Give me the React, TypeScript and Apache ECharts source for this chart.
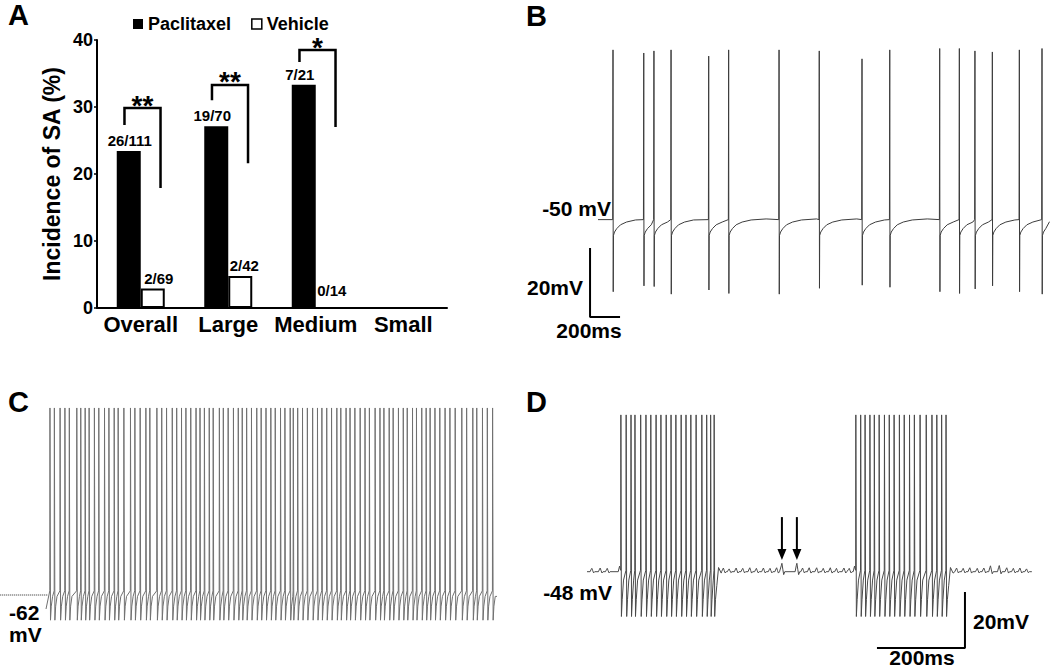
import React, { useEffect, useRef } from 'react';
import * as echarts from 'echarts';

const FONT = '"Liberation Sans", Arial, Helvetica, sans-serif';

// ---------- Panel A data ----------
const categories = ['Overall', 'Large', 'Medium', 'Small'];
const paclitaxelCounts = [26, 19, 7, null];
const paclitaxelTotals = [111, 70, 21, null];
const vehicleCounts = [2, 2, 0, null];
const vehicleTotals = [69, 42, 14, null];
const yTicksA = [0, 10, 20, 30, 40];
const bracketCats = [0, 1, 2];
const bracketLeft = [27.3, 31, 36.7];
const bracketTop = [29.85, 33.3, 38.5];
const bracketRight = [17.9, 21.6, 27];
const bracketStars = ['**', '**', '*'];
const paclitaxelLabelOffsets = [[1, 0], [-4, 0], [-4, 0], [0, 0]];
const vehicleLabelOffsets = [[6, 0], [4, 0], [4, -6], [0, 0]];

// ---------- Panel B data (ms, mV) ----------
const spikeTimesB = [100, 305, 373, 487, 738, 871, 1207, 1475, 1760, 1945, 2278, 2409, 2513, 2629, 2809, 2960];
const spikePeakB = [-0.4, -1.3, -0.7, -0.4, -2.2, -0.4, -0.4, -0.7, -3.0, -0.4, 0, 0, -0.7, -1.0, -0.4, 0];
const spikeTroughB = [-70.5, -68.8, -69.0, -71.2, -70.0, -71.0, -71.2, -69.5, -68.6, -69.2, -70.5, -71.0, -69.7, -68.8, -70.5, -71.2];
const ahpTemplateB = [[3, -54.2], [10, -53.2], [25, -52.2], [50, -51.1], [90, -50.3], [150, -49.7], [250, -49.4]];
const restB = -49.6;
const traceEndB = 3010;
const scaleBarB = { t: -53, v: -77.8, dt: 200, dv: 20 };

// ---------- Panel C data ----------
const spikeTimesC = [9, 19, 32, 43, 53, 70, 79, 89, 98, 110, 120, 133, 143, 155, 164, 177, 192, 202, 214, 227, 236, 252, 263, 274, 287, 297, 308, 318, 329, 341, 350, 360, 371, 380, 394, 403, 414, 426, 437, 446, 456, 467, 479, 489, 500, 511, 521, 533, 543, 555, 562, 572, 583, 594, 606, 617, 627, 638, 649, 661, 670, 682, 691, 702, 714, 725, 735, 748, 759, 768, 780, 789, 801, 812, 821, 833, 842, 854, 864, 873, 884, 895, 907, 918, 930, 945, 956, 970, 979, 992, 1003, 1015];
const peakC = 4.8;
const troughC = -71;
const traceEndC = 1025;
const restLineC = -62;

// ---------- Panel D data ----------
const spikeTimesD1 = [77, 89, 100, 109, 122, 134, 145, 157, 168, 180, 191, 202, 214, 225, 236, 248, 261, 272, 281, 289];
const spikeTimesD2 = [611, 622, 632, 643, 653, 664, 676, 687, 698, 710, 721, 733, 744, 757, 771, 784, 795, 806, 816];
const bumpTimesD = [11, 30, 46, 310, 323, 339, 354, 370, 385, 401, 416, 431, 443, 477, 490, 505, 522, 537, 553, 567, 584, 596, 840, 855, 870, 887, 902, 917, 937, 954, 969, 984, 999];
const bumpAmpD = [1.2, 1.3, 1.2, 1.3, 1.0, 1.3, 1.2, 1.4, 1.2, 1.3, 1.2, 1.4, 3.0, 3.0, 1.3, 1.4, 1.4, 1.2, 1.4, 1.2, 1.3, 1.2, 1.3, 1.2, 1.4, 1.2, 1.3, 2.1, 2.2, 1.4, 1.2, 1.3, 1.0];
const restD = -48;
const peakD = 8;
const troughD = -64;
const traceEndD = 1011;
const arrowsD = [[443, -28.5, -43.8], [477, -28.5, -43.8]];
const scaleBarD = { t: 859, v: -75.25, dt: 200, dv: 20 };

const pct = (c: number | null, t: number | null) => (c == null || t == null ? '-' : (c / t) * 100);

function buildB() {
  const pts: number[][] = [[0, restB]];
  spikeTimesB.forEach((t, i) => {
    const next = i + 1 < spikeTimesB.length ? spikeTimesB[i + 1] : traceEndB;
    pts.push([t - 2, restB], [t, spikePeakB[i]], [t + 1.5, spikeTroughB[i]]);
    for (const [dt, v] of ahpTemplateB) if (t + dt < next - 3) pts.push([t + dt, v]);
  });
  pts.push([traceEndB, -50.2]);
  return pts;
}

function buildC() {
  const pts: number[][] = [[0, -67]];
  spikeTimesC.forEach((t, i) => {
    const next = i + 1 < spikeTimesC.length ? spikeTimesC[i + 1] : traceEndC + 10;
    pts.push([t - 0.4, -60.5], [t, peakC], [t + 1.2, troughC]);
    if (t + 3 < next - 0.6) pts.push([t + 3, -66]);
    if (t + 6 < next - 0.6) pts.push([t + 6, -62.5]);
  });
  pts.push([traceEndC, -62.5]);
  return pts;
}

function buildD() {
  const pts: number[][] = [[0, restD]];
  const bursts = [spikeTimesD1, spikeTimesD2];
  const events = [
    ...bumpTimesD.map((t, i) => ({ t, kind: 'bump', i })),
    ...bursts.map((b, i) => ({ t: b[0], kind: 'burst', i })),
  ].sort((a, b) => a.t - b.t);
  for (const e of events) {
    if (e.kind === 'bump') {
      const a = bumpAmpD[e.i];
      pts.push([e.t - 4, restD], [e.t - 1.5, restD + a * 0.7], [e.t, restD + a], [e.t + 2, restD + a * 0.3], [e.t + 4, restD - a * 0.35], [e.t + 6.5, restD]);
    } else {
      const b = bursts[e.i];
      pts.push([b[0] - 6, restD], [b[0] - 3, -46]);
      b.forEach((t, k) => {
        pts.push([t - 0.4, -47.5], [t, peakD], [t + 1.2, troughD], [t + 3, -58]);
        if (k < b.length - 1) pts.push([t + 6, -51]);
        else pts.push([t + 6, -53], [t + 10, -46.5], [t + 16, -48.5]);
      });
    }
  }
  pts.push([traceEndD, restD]);
  return pts;
}

export default function App() {
  const ref = useRef<HTMLDivElement>(null);
  useEffect(() => {
    if (!ref.current) return;
    const chart = echarts.init(ref.current, null, { renderer: 'svg' });
    const bold = (size: number) => ({ fontFamily: FONT, fontWeight: 'bold' as const, fontSize: size, color: '#000' });
    const txt = (text: string, x: number, y: number, size: number, align = 'left') => ({
      type: 'text', x, y, silent: true,
      style: { text, x: 0, y: 0, font: `bold ${size}px ${FONT}`, fill: '#000', align, verticalAlign: 'middle', textAlign: align, textVerticalAlign: 'middle' },
    });
    const lineSeries = (data: number[][], axis: number, color: string, width: number, type = 'solid') => ({
      type: 'line', xAxisIndex: axis, yAxisIndex: axis, data, showSymbol: false, symbol: 'none', silent: true,
      lineStyle: { color, width, type }, itemStyle: { color }, z: 3,
    });
    const option: any = {
      animation: false,
      backgroundColor: '#fff',
      legend: {
        left: 128, top: 10, itemWidth: 10, itemHeight: 10, itemGap: 20, icon: 'rect',
        textStyle: { ...bold(18), lineHeight: 18 },
        data: [
          { name: 'Paclitaxel', itemStyle: { color: '#000' } },
          { name: 'Vehicle', itemStyle: { color: '#fff', borderColor: '#000', borderWidth: 1.5 } },
        ],
      },
      grid: [
        { left: 97, top: 40, width: 350, height: 268 },
        { left: 589, top: 14, width: 460.5, height: 310.5 },
        { left: 0.24, top: 393.4, width: 496.76, height: 252 },
        { left: 587, top: 381.3, width: 444.84, height: 280 },
      ],
      xAxis: [
        {
          type: 'category', gridIndex: 0, data: categories,
          axisLine: { lineStyle: { color: '#000', width: 2 } },
          axisTick: { show: false },
          axisLabel: { ...bold(22), margin: 5, interval: 0 },
        },
        { type: 'value', gridIndex: 1, min: -60, max: traceEndB, show: false },
        { type: 'value', gridIndex: 2, min: -104, max: traceEndC, show: false },
        { type: 'value', gridIndex: 3, min: 0, max: traceEndD, show: false },
      ],
      yAxis: [
        {
          type: 'value', gridIndex: 0, min: yTicksA[0], max: yTicksA[yTicksA.length - 1], interval: yTicksA[1] - yTicksA[0],
          name: 'Incidence of SA (%)', nameLocation: 'middle', nameGap: 34, nameRotate: 90,
          nameTextStyle: bold(23),
          axisLine: { show: true, lineStyle: { color: '#000', width: 2 } },
          axisTick: { show: true, length: 3, lineStyle: { color: '#000', width: 1.5 } },
          axisLabel: { ...bold(18), margin: 4 },
          splitLine: { show: false },
        },
        { type: 'value', gridIndex: 1, min: -80, max: 10, show: false },
        { type: 'value', gridIndex: 2, min: -80, max: 10, show: false },
        { type: 'value', gridIndex: 3, min: -80, max: 20, show: false },
      ],
      series: [
        {
          name: 'Paclitaxel', type: 'bar', xAxisIndex: 0, yAxisIndex: 0, barWidth: 24, barGap: '0%',
          itemStyle: { color: '#000' },
          data: categories.map((_, i) => ({ value: pct(paclitaxelCounts[i], paclitaxelTotals[i]), label: { offset: paclitaxelLabelOffsets[i] } })),
          label: {
            show: true, position: 'top', distance: 3, ...bold(15),
            formatter: (p: any) => (paclitaxelCounts[p.dataIndex] == null ? '' : `${paclitaxelCounts[p.dataIndex]}/${paclitaxelTotals[p.dataIndex]}`),
          },
        },
        {
          name: 'Vehicle', type: 'bar', xAxisIndex: 0, yAxisIndex: 0, barWidth: 24, barGap: '0%',
          itemStyle: { color: '#fff', borderColor: '#000', borderWidth: 2 },
          data: categories.map((_, i) => ({ value: pct(vehicleCounts[i], vehicleTotals[i]), label: { offset: vehicleLabelOffsets[i] } })),
          label: {
            show: true, position: 'top', distance: 3, ...bold(15),
            formatter: (p: any) => (vehicleCounts[p.dataIndex] == null ? '' : `${vehicleCounts[p.dataIndex]}/${vehicleTotals[p.dataIndex]}`),
          },
        },
        {
          type: 'custom', xAxisIndex: 0, yAxisIndex: 0, silent: true, z: 5,
          data: bracketCats.map((c, i) => [c, bracketLeft[i], bracketTop[i], bracketRight[i]]),
          renderItem: (params: any, api: any) => {
            const cat = api.value(0);
            const top = api.coord([cat, api.value(2)]);
            const band = api.size([1, 0])[0];
            const xl = top[0] - band * 0.186;
            const xr = top[0] + band * 0.226;
            const yl = api.coord([cat, api.value(1)])[1];
            const yr = api.coord([cat, api.value(3)])[1];
            const yt = top[1];
            return {
              type: 'group',
              children: [
                { type: 'polyline', shape: { points: [[xl, yl], [xl, yt], [xr, yt], [xr, yr]] }, style: { stroke: '#000', lineWidth: 2.5, fill: null } },
                { type: 'text', style: { text: bracketStars[params.dataIndex], x: (xl + xr) / 2, y: yt - 3, align: 'center', verticalAlign: 'middle', font: `bold 28px ${FONT}`, lineHeight: 14, fill: '#000' } },
              ],
            };
          },
        },
        lineSeries(buildB(), 1, '#3c3c3c', 1),
        lineSeries([[scaleBarB.t, scaleBarB.v + scaleBarB.dv], [scaleBarB.t, scaleBarB.v], [scaleBarB.t + scaleBarB.dt, scaleBarB.v]], 1, '#000', 2),
        lineSeries(buildC(), 2, '#707070', 1),
        lineSeries([[-104, restLineC], [4, restLineC]], 2, '#222', 1, 'dotted'),
        lineSeries(buildD(), 3, '#4a4a4a', 1),
        lineSeries([[scaleBarD.t, scaleBarD.v + scaleBarD.dv], [scaleBarD.t, scaleBarD.v], [scaleBarD.t - scaleBarD.dt, scaleBarD.v]], 3, '#000', 2),
        {
          type: 'custom', xAxisIndex: 3, yAxisIndex: 3, silent: true, z: 6,
          data: arrowsD,
          renderItem: (_params: any, api: any) => {
            const a = api.coord([api.value(0), api.value(1)]);
            const b = api.coord([api.value(0), api.value(2)]);
            return {
              type: 'group',
              children: [
                { type: 'line', shape: { x1: a[0], y1: a[1], x2: b[0], y2: b[1] - 8 }, style: { stroke: '#000', lineWidth: 2 } },
                { type: 'polygon', shape: { points: [[b[0] - 4.5, b[1] - 11], [b[0] + 4.5, b[1] - 11], [b[0], b[1]]] }, style: { fill: '#000' } },
              ],
            };
          },
        },
      ],
      graphic: [
        txt('A', 8, 15, 29),
        txt('B', 526, 16, 29),
        txt('C', 8, 402, 29),
        txt('D', 526, 402, 29),
        txt('-50 mV', 611, 208, 21, 'right'),
        txt('20mV', 583, 287, 21, 'right'),
        txt('200ms', 589, 330, 21, 'center'),
        txt('-62', 9, 612, 21),
        txt('mV', 9, 634, 21),
        txt('-48 mV', 612, 592, 21, 'right'),
        txt('20mV', 973, 621, 21),
        txt('200ms', 922, 657, 21, 'center'),
      ],
    };
    chart.setOption(option);
    return () => chart.dispose();
  }, []);
  return <div ref={ref} style={{ position: 'absolute', left: 0, top: 0, width: 1050, height: 670, background: '#fff' }} />;
}
